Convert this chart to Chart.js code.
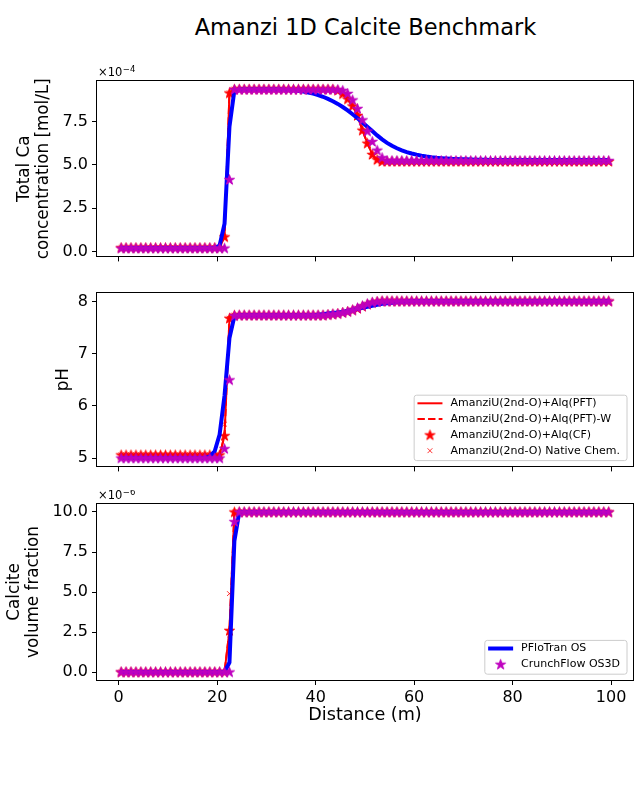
<!DOCTYPE html>
<html><head><meta charset="utf-8">
<script src="https://cdn.jsdelivr.net/npm/chart.js@4/dist/chart.umd.min.js"></script>
<style>
html,body{margin:0;padding:0;background:#fff;}
#wrap{position:relative;width:640px;height:800px;background:#fff;overflow:hidden;}
canvas{position:absolute;left:0;}
#title{position:absolute;left:0;width:731px;top:13px;line-height:28px;text-align:center;font-family:"DejaVu Sans",sans-serif;font-size:22.5px;color:#000;}
</style></head><body>
<div id="wrap">
<div id="title">Amanzi 1D Calcite Benchmark</div>
<canvas id="c1" width="640" height="210" style="top:60px"></canvas>
<canvas id="c2" width="640" height="210" style="top:270px"></canvas>
<canvas id="c3" width="640" height="250" style="top:490px"></canvas>
</div>
<script>
// ---------------- data ----------------
const distance = [0.5,1.5,2.5,3.5,4.5,5.5,6.5,7.5,8.5,9.5,
 10.5,11.5,12.5,13.5,14.5,15.5,16.5,17.5,18.5,19.5,
 20.5,21.5,22.5,23.5,24.5,25.5,26.5,27.5,28.5,29.5,
 30.5,31.5,32.5,33.5,34.5,35.5,36.5,37.5,38.5,39.5,
 40.5,41.5,42.5,43.5,44.5,45.5,46.5,47.5,48.5,49.5,
 50.5,51.5,52.5,53.5,54.5,55.5,56.5,57.5,58.5,59.5,
 60.5,61.5,62.5,63.5,64.5,65.5,66.5,67.5,68.5,69.5,
 70.5,71.5,72.5,73.5,74.5,75.5,76.5,77.5,78.5,79.5,
 80.5,81.5,82.5,83.5,84.5,85.5,86.5,87.5,88.5,89.5,
 90.5,91.5,92.5,93.5,94.5,95.5,96.5,97.5,98.5,99.5];

const seriesNames = ['AmanziU(2nd-O)+Alq(PFT)','AmanziU(2nd-O)+Alq(PFT)-W','AmanziU(2nd-O)+Alq(CF)','AmanziU(2nd-O) Native Chem.','PFloTran OS','CrunchFlow OS3D'];

// Total Ca [mol/L], in units of 1e-4
const caAmanzi = [0.22,0.22,0.22,0.22,0.22,0.22,0.22,0.22,0.22,0.22,
 0.22,0.22,0.22,0.22,0.22,0.22,0.22,0.22,0.22,0.22,
 0.22,0.85,9.15,9.37,9.37,9.37,9.37,9.37,9.37,9.37,
 9.37,9.37,9.37,9.37,9.37,9.37,9.37,9.37,9.37,9.37,
 9.37,9.37,9.37,9.37,9.3,9.1,8.8,8.4,7.85,7.0,
 6.25,5.6,5.3,5.2,5.2,5.2,5.2,5.2,5.2,5.2,
 5.2,5.2,5.2,5.2,5.2,5.2,5.2,5.2,5.2,5.2,
 5.2,5.2,5.2,5.2,5.2,5.2,5.2,5.2,5.2,5.2,
 5.2,5.2,5.2,5.2,5.2,5.2,5.2,5.2,5.2,5.2,
 5.2,5.2,5.2,5.2,5.2,5.2,5.2,5.2,5.2,5.2];
const caCrunch = [0.2,0.2,0.2,0.2,0.2,0.2,0.2,0.2,0.2,0.2,
 0.2,0.2,0.2,0.2,0.2,0.2,0.2,0.2,0.2,0.2,
 0.2,0.2,4.15,9.35,9.35,9.35,9.35,9.35,9.35,9.35,
 9.35,9.35,9.35,9.35,9.35,9.35,9.35,9.35,9.35,9.35,
 9.35,9.35,9.35,9.35,9.35,9.3,9.12,8.75,8.25,7.6,
 6.95,6.35,5.85,5.42,5.25,5.25,5.25,5.25,5.25,5.25,
 5.25,5.25,5.25,5.25,5.25,5.25,5.25,5.25,5.25,5.25,
 5.25,5.25,5.25,5.25,5.25,5.25,5.25,5.25,5.25,5.25,
 5.25,5.25,5.25,5.25,5.25,5.25,5.25,5.25,5.25,5.25,
 5.25,5.25,5.25,5.25,5.25,5.25,5.25,5.25,5.25,5.25];
const caPflo = [0.2,0.2,0.2,0.2,0.2,0.2,0.2,0.2,0.2,0.2,
 0.2,0.2,0.2,0.2,0.2,0.2,0.2,0.2,0.2,0.2,
 0.35,1.6,7.2,9.3,9.35,9.35,9.35,9.35,9.35,9.35,
 9.35,9.35,9.35,9.34,9.32,9.3,9.27,9.23,9.18,9.11,
 9.03,8.93,8.81,8.67,8.52,8.34,8.14,7.92,7.69,7.45,
 7.2,6.95,6.7,6.47,6.27,6.1,5.96,5.84,5.74,5.66,
 5.59,5.53,5.48,5.44,5.41,5.39,5.37,5.35,5.34,5.33,
 5.32,5.31,5.3,5.3,5.29,5.28,5.28,5.28,5.28,5.28,
 5.28,5.28,5.28,5.28,5.28,5.28,5.28,5.28,5.28,5.28,
 5.28,5.28,5.28,5.28,5.28,5.28,5.28,5.28,5.28,5.28];

// pH
const phAmanzi = [5.06,5.06,5.06,5.06,5.06,5.06,5.06,5.06,5.06,5.06,
 5.06,5.06,5.06,5.06,5.06,5.06,5.06,5.06,5.06,5.06,
 5.06,5.43,7.68,7.74,7.74,7.74,7.74,7.74,7.74,7.74,
 7.74,7.74,7.74,7.74,7.74,7.74,7.74,7.74,7.74,7.74,
 7.74,7.74,7.75,7.76,7.77,7.79,7.81,7.84,7.87,7.91,
 7.95,7.98,8.0,8.01,8.01,8.01,8.01,8.01,8.01,8.01,
 8.01,8.01,8.01,8.01,8.01,8.01,8.01,8.01,8.01,8.01,
 8.01,8.01,8.01,8.01,8.01,8.01,8.01,8.01,8.01,8.01,
 8.01,8.01,8.01,8.01,8.01,8.01,8.01,8.01,8.01,8.01,
 8.01,8.01,8.01,8.01,8.01,8.01,8.01,8.01,8.01,8.01];
const phNative = [5.06,5.06,5.06,5.06,5.06,5.06,5.06,5.06,5.06,5.06,
 5.06,5.06,5.06,5.06,5.06,5.06,5.06,5.06,5.06,5.06,
 5.06,5.65,7.68,7.74,7.74,7.74,7.74,7.74,7.74,7.74,
 7.74,7.74,7.74,7.74,7.74,7.74,7.74,7.74,7.74,7.74,
 7.74,7.74,7.75,7.76,7.77,7.79,7.81,7.84,7.87,7.91,
 7.95,7.98,8.0,8.01,8.01,8.01,8.01,8.01,8.01,8.01,
 8.01,8.01,8.01,8.01,8.01,8.01,8.01,8.01,8.01,8.01,
 8.01,8.01,8.01,8.01,8.01,8.01,8.01,8.01,8.01,8.01,
 8.01,8.01,8.01,8.01,8.01,8.01,8.01,8.01,8.01,8.01,
 8.01,8.01,8.01,8.01,8.01,8.01,8.01,8.01,8.01,8.01];
const phCrunch = [5.0,5.0,5.0,5.0,5.0,5.0,5.0,5.0,5.0,5.0,
 5.0,5.0,5.0,5.0,5.0,5.0,5.0,5.0,5.0,5.0,
 5.0,5.18,6.5,7.73,7.74,7.74,7.74,7.74,7.74,7.74,
 7.74,7.74,7.74,7.74,7.74,7.74,7.74,7.74,7.74,7.74,
 7.74,7.74,7.75,7.76,7.77,7.79,7.81,7.84,7.88,7.92,
 7.96,7.99,8.0,8.01,8.01,8.01,8.01,8.01,8.01,8.01,
 8.01,8.01,8.01,8.01,8.01,8.01,8.01,8.01,8.01,8.01,
 8.01,8.01,8.01,8.01,8.01,8.01,8.01,8.01,8.01,8.01,
 8.01,8.01,8.01,8.01,8.01,8.01,8.01,8.01,8.01,8.01,
 8.01,8.01,8.01,8.01,8.01,8.01,8.01,8.01,8.01,8.01];
const phPflo = [5.0,5.0,5.0,5.0,5.0,5.0,5.0,5.0,5.0,5.0,
 5.0,5.0,5.0,5.0,5.0,5.0,5.0,5.0,5.03,5.13,
 5.45,6.2,7.3,7.72,7.74,7.74,7.74,7.74,7.74,7.74,
 7.74,7.74,7.74,7.74,7.74,7.74,7.74,7.74,7.74,7.74,
 7.75,7.76,7.77,7.78,7.79,7.8,7.82,7.84,7.86,7.88,
 7.9,7.92,7.94,7.96,7.97,7.98,7.99,8.0,8.0,8.01,
 8.01,8.01,8.01,8.01,8.01,8.01,8.01,8.01,8.01,8.01,
 8.01,8.01,8.01,8.01,8.01,8.01,8.01,8.01,8.01,8.01,
 8.01,8.01,8.01,8.01,8.01,8.01,8.01,8.01,8.01,8.01,
 8.01,8.01,8.01,8.01,8.01,8.01,8.01,8.01,8.01,8.01];

// Calcite volume fraction, in units of 1e-6
const calAmanzi = [0,0,0,0,0,0,0,0,0,0,
 0,0,0,0,0,0,0,0,0,0,
 0,0,2.6,10,10,10,10,10,10,10,
 10,10,10,10,10,10,10,10,10,10,
 10,10,10,10,10,10,10,10,10,10,
 10,10,10,10,10,10,10,10,10,10,
 10,10,10,10,10,10,10,10,10,10,
 10,10,10,10,10,10,10,10,10,10,
 10,10,10,10,10,10,10,10,10,10,
 10,10,10,10,10,10,10,10,10,10];
const calNative = [0,0,0,0,0,0,0,0,0,0,
 0,0,0,0,0,0,0,0,0,0,
 0,0,4.9,10,10,10,10,10,10,10,
 10,10,10,10,10,10,10,10,10,10,
 10,10,10,10,10,10,10,10,10,10,
 10,10,10,10,10,10,10,10,10,10,
 10,10,10,10,10,10,10,10,10,10,
 10,10,10,10,10,10,10,10,10,10,
 10,10,10,10,10,10,10,10,10,10,
 10,10,10,10,10,10,10,10,10,10];
const calCrunch = [0,0,0,0,0,0,0,0,0,0,
 0,0,0,0,0,0,0,0,0,0,
 0,0,0,9.4,10,10,10,10,10,10,
 10,10,10,10,10,10,10,10,10,10,
 10,10,10,10,10,10,10,10,10,10,
 10,10,10,10,10,10,10,10,10,10,
 10,10,10,10,10,10,10,10,10,10,
 10,10,10,10,10,10,10,10,10,10,
 10,10,10,10,10,10,10,10,10,10,
 10,10,10,10,10,10,10,10,10,10];
const calPflo = [0,0,0,0,0,0,0,0,0,0,
 0,0,0,0,0,0,0,0,0,0,
 0,0,0.6,8.2,10,10,10,10,10,10,
 10,10,10,10,10,10,10,10,10,10,
 10,10,10,10,10,10,10,10,10,10,
 10,10,10,10,10,10,10,10,10,10,
 10,10,10,10,10,10,10,10,10,10,
 10,10,10,10,10,10,10,10,10,10,
 10,10,10,10,10,10,10,10,10,10,
 10,10,10,10,10,10,10,10,10,10];

const xTicks = [0,20,40,60,80,100];
const caTicks = [0,2.5,5,7.5];
const phTicks = [5,6,7,8];
const calTicks = [0,2.5,5,7.5,10];

// ---------------- styling ----------------
const FAM = '"DejaVu Sans", sans-serif';
Chart.defaults.font.family = FAM;
const RED = '#ff0000', BLUE = '#0000ff', MAG = '#bf00bf';

function makeStar(color, R) {
  const pad = 2, s = Math.ceil(2 * R + 2 * pad);
  const c = document.createElement('canvas'); c.width = s; c.height = s;
  const g = c.getContext('2d'); const cx = s / 2, cy = s / 2 + 0.4;
  g.beginPath();
  for (let k = 0; k < 10; k++) {
    const a = -Math.PI / 2 + k * Math.PI / 5;
    const r = k % 2 ? R * 0.382 : R;
    g.lineTo(cx + r * Math.cos(a), cy + r * Math.sin(a));
  }
  g.closePath(); g.fillStyle = color; g.fill();
  g.strokeStyle = color; g.lineWidth = 1; g.stroke();
  return c;
}
const starRed = makeStar(RED, 5.3);
const starMag = makeStar(MAG, 5.3);

function pts(arr) { return distance.map((x, i) => ({x: x, y: arr[i]})); }

function datasets(amanzi, native, pflo, crunch) {
  return [
    {label: seriesNames[5], data: pts(crunch), showLine: false, pointStyle: starMag, pointRadius: 6, order: 0},
    {label: seriesNames[4], data: pts(pflo), borderColor: BLUE, borderWidth: 4, pointRadius: 0, order: 1},
    {label: seriesNames[3], data: pts(native), showLine: false, pointStyle: 'crossRot', pointRadius: 3.4, borderColor: RED, pointBorderWidth: 0.8, order: 2},
    {label: seriesNames[2], data: pts(amanzi), showLine: false, pointStyle: starRed, pointRadius: 6, order: 3},
    {label: seriesNames[1], data: pts(amanzi), borderColor: RED, borderWidth: 2, borderDash: [7.4, 3.2], pointRadius: 0, order: 4},
    {label: seriesNames[0], data: pts(amanzi), borderColor: RED, borderWidth: 2, pointRadius: 0, order: 5}
  ];
}

const gridOpts = {display: true, drawOnChartArea: false, drawTicks: true, tickLength: 5, color: '#000', tickColor: '#000', tickWidth: 1, lineWidth: 1};

function xScale(showLabels, height, title) {
  return {
    type: 'linear', min: -4.4, max: 104.45,
    afterBuildTicks: s => { s.ticks = xTicks.map(v => ({value: v})); },
    afterFit: s => { s.height = height; },
    ticks: {display: showLabels, font: {size: 16}, color: '#000', padding: 3.5, maxRotation: 0, autoSkip: false, callback: v => String(v)},
    grid: gridOpts, border: {display: false},
    title: title ? {display: true, text: title, font: {size: 17.6}, color: '#000', padding: {top: 0, bottom: 14}} : {display: false}
  };
}
function yScale(min, max, ticks, fmt, title, titlePad) {
  return {
    type: 'linear', min: min, max: max,
    afterBuildTicks: s => { s.ticks = ticks.map(v => ({value: v})); },
    afterFit: s => { s.width = 97; },
    ticks: {font: {size: 16}, color: '#000', padding: 4, autoSkip: false, callback: v => fmt(v)},
    grid: gridOpts, border: {display: false},
    title: {display: true, text: title, font: {size: 16.8, lineHeight: '18.3px'}, color: '#000', padding: {top: titlePad, bottom: 0}}
  };
}

const framePlugin = {
  id: 'frame',
  afterDraw(chart) {
    const {ctx, chartArea: a} = chart;
    ctx.save(); ctx.strokeStyle = '#000'; ctx.lineWidth = 1;
    ctx.strokeRect(Math.round(a.left) - 0.5, Math.round(a.top) - 0.5, Math.round(a.right - a.left) + 1, Math.round(a.bottom - a.top) + 1);
    ctx.restore();
  }
};
const expPlugin = {
  id: 'expLabel',
  afterDraw(chart, args, opts) {
    if (!opts || !opts.base) return;
    const {ctx, chartArea: a} = chart;
    ctx.save(); ctx.fillStyle = '#000';
    ctx.textBaseline = 'alphabetic'; ctx.textAlign = 'left';
    ctx.font = '11.5px ' + FAM;
    const x0 = a.left + 1, yb = a.top - 5;
    ctx.fillText(opts.base, x0, yb);
    const w = ctx.measureText(opts.base).width;
    ctx.font = '8.5px ' + FAM;
    ctx.fillText(opts.exp, x0 + w + 0.5, yb - 4.5);
    ctx.restore();
  }
};
const legendPlugin = {
  id: 'boxLegend',
  afterDraw(chart, args, opts) {
    if (!opts || !opts.items) return;
    const {ctx, chartArea: a} = chart;
    const items = opts.items;
    ctx.save();
    ctx.font = '11px ' + FAM;
    const tw = Math.max(...items.map(it => ctx.measureText(it.label).width));
    const w = 36.3 + tw + 7;
    const h = 7.6 + (items.length - 1) * 15.8 + 10.4;
    const bx = a.right - 6 - w, by = a.bottom - 5.8 - h;
    ctx.beginPath();
    if (ctx.roundRect) ctx.roundRect(bx, by, w, h, 2.5); else ctx.rect(bx, by, w, h);
    ctx.fillStyle = 'rgba(255,255,255,0.8)'; ctx.fill();
    ctx.strokeStyle = '#cccccc'; ctx.lineWidth = 1; ctx.stroke();
    items.forEach((it, i) => {
      const cy = by + 7.6 + i * 15.8 + 0.5;
      const hx0 = bx + 3.3, hx1 = bx + 28.3, hc = (hx0 + hx1) / 2;
      if (it.kind === 'line' || it.kind === 'dash') {
        ctx.beginPath(); ctx.strokeStyle = it.color; ctx.lineWidth = it.width;
        ctx.setLineDash(it.kind === 'dash' ? [7.4, 3.2] : []);
        ctx.moveTo(hx0, cy); ctx.lineTo(hx1, cy); ctx.stroke(); ctx.setLineDash([]);
      } else if (it.kind === 'star') {
        ctx.drawImage(it.img, hc - it.img.width / 2, cy - it.img.height / 2);
      } else if (it.kind === 'cross') {
        ctx.beginPath(); ctx.strokeStyle = it.color; ctx.lineWidth = 0.8;
        ctx.moveTo(hc - 2.4, cy - 2.4); ctx.lineTo(hc + 2.4, cy + 2.4);
        ctx.moveTo(hc - 2.4, cy + 2.4); ctx.lineTo(hc + 2.4, cy - 2.4);
        ctx.stroke();
      }
      ctx.fillStyle = '#000'; ctx.textBaseline = 'middle'; ctx.textAlign = 'left';
      ctx.fillText(it.label, bx + 36.3, cy);
    });
    ctx.restore();
  }
};

function makeChart(id, ds, xs, ys, pad, pluginOpts) {
  return new Chart(document.getElementById(id), {
    type: 'line',
    data: {datasets: ds},
    options: {
      responsive: false, animation: false, events: [], devicePixelRatio: 1,
      layout: {padding: pad},
      elements: {line: {tension: 0}},
      plugins: Object.assign({legend: {display: false}, tooltip: {enabled: false}}, pluginOpts),
      scales: {x: xs, y: ys}
    },
    plugins: [framePlugin, expPlugin, legendPlugin]
  });
}

const f1 = v => v.toFixed(1);
makeChart('c1', datasets(caAmanzi, caAmanzi, caPflo, caCrunch),
  xScale(false, 13), yScale(-0.28, 9.84, caTicks, f1, ['Total Ca', 'concentration [mol/L]'], 15.85),
  {top: 21, right: 6, left: 0, bottom: 0}, {expLabel: {base: '×10', exp: '−4'}});

makeChart('c2', datasets(phAmanzi, phNative, phPflo, phCrunch),
  xScale(false, 12), yScale(4.84, 8.165, phTicks, v => String(v), 'pH', 54.15),
  {top: 23, right: 6, left: 0, bottom: 0},
  {boxLegend: {items: [
    {label: seriesNames[0], kind: 'line', color: RED, width: 2},
    {label: seriesNames[1], kind: 'dash', color: RED, width: 2},
    {label: seriesNames[2], kind: 'star', img: starRed},
    {label: seriesNames[3], kind: 'cross', color: RED}
  ]}});

makeChart('c3', datasets(calAmanzi, calNative, calPflo, calCrunch),
  xScale(true, 60, 'Distance (m)'), yScale(-0.5, 10.5, calTicks, f1, ['Calcite', 'volume fraction'], 5.85),
  {top: 14, right: 6, left: 0, bottom: 0},
  {expLabel: {base: '×10', exp: '−6'}, boxLegend: {items: [
    {label: seriesNames[4], kind: 'line', color: BLUE, width: 4},
    {label: seriesNames[5], kind: 'star', img: starMag}
  ]}});
</script>
</body></html>
